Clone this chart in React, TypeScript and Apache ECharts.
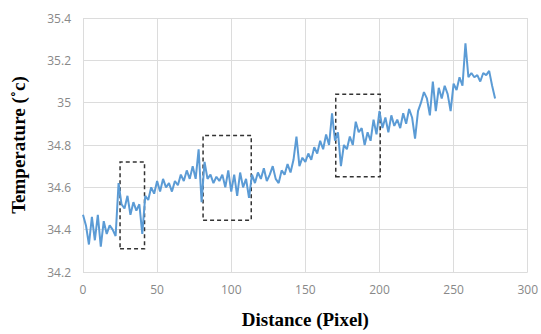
import React, { useEffect, useRef } from "react";
import * as echarts from "echarts";

const distances: number[] = [];
for (let i = 0; i <= 278; i += 2) distances.push(i);

const temperatures = [
  34.47, 34.42, 34.33, 34.46, 34.35, 34.47, 34.32, 34.44, 34.38, 34.42,
  34.40, 34.37, 34.62, 34.52, 34.50, 34.56, 34.47, 34.53, 34.49, 34.52,
  34.38, 34.56, 34.54, 34.60, 34.57, 34.63, 34.58, 34.64, 34.60, 34.62,
  34.58, 34.63, 34.61, 34.66, 34.63, 34.68, 34.64, 34.70, 34.64, 34.78,
  34.53, 34.72, 34.64, 34.66, 34.62, 34.65, 34.63, 34.66, 34.60, 34.68,
  34.58, 34.66, 34.56, 34.67, 34.60, 34.64, 34.55, 34.66, 34.62, 34.67,
  34.64, 34.69, 34.63, 34.66, 34.70, 34.64, 34.62, 34.68, 34.66, 34.71,
  34.67, 34.73, 34.84, 34.70, 34.74, 34.72, 34.76, 34.73, 34.79, 34.76,
  34.82, 34.78, 34.85, 34.80, 34.95, 34.82, 34.86, 34.70, 34.80, 34.78,
  34.84, 34.80, 34.91, 34.86, 34.88, 34.80, 34.86, 34.82, 34.92, 34.85,
  34.96, 34.88, 34.93, 34.86, 34.94, 34.89, 34.92, 34.88, 34.95, 34.90,
  34.97, 34.93, 34.83, 34.96, 35.00, 35.05, 35.02, 34.94, 35.10, 34.96,
  35.07, 35.02, 35.08, 35.04, 34.96, 35.09, 35.06, 35.12, 35.08, 35.28,
  35.12, 35.14, 35.12, 35.13, 35.10, 35.14, 35.13, 35.15, 35.08, 35.02,
];

// dashed highlight boxes: [xStart, yBottom, xEnd, yTop]
const boxes: [number, number, number, number][] = [
  [25, 34.31, 41.5, 34.72],
  [81, 34.445, 113.5, 34.845],
  [170.5, 34.65, 200.5, 35.04],
];

const yTicks = { min: 34.2, max: 35.4, interval: 0.2 };
const xTicks = { min: 0, max: 300, interval: 50 };

export default function App() {
  const ref = useRef<HTMLDivElement>(null);
  useEffect(() => {
    if (!ref.current) return;
    const chart = echarts.init(ref.current, undefined, { renderer: "svg" });
    const data = distances.map((d, i) => [d, temperatures[i]]);
    const titleStyle = {
      fontFamily: "Liberation Serif",
      fontWeight: "bold",
      fontSize: 19,
      color: "#000",
    };
    chart.setOption({
      animation: false,
      backgroundColor: "#ffffff",
      grid: { left: 83, right: 11, top: 18, bottom: 56 },
      xAxis: {
        type: "value",
        min: xTicks.min,
        max: xTicks.max,
        interval: xTicks.interval,
        name: "Distance (Pixel)",
        nameLocation: "middle",
        nameGap: 38,
        nameTextStyle: titleStyle,
        axisLine: { show: false },
        axisTick: { show: false },
        axisLabel: { color: "#888", fontSize: 12, margin: 11, fontFamily: "Open Sans" },
        splitLine: { show: true, lineStyle: { color: "#dcdcdc", width: 1 } },
      },
      yAxis: {
        type: "value",
        min: yTicks.min,
        max: yTicks.max,
        interval: yTicks.interval,
        name: "Temperature (˚c)",
        nameLocation: "middle",
        nameGap: 55,
        nameRotate: 90,
        nameTextStyle: titleStyle,
        axisLine: { show: false },
        axisTick: { show: false },
        axisLabel: { color: "#888", fontSize: 12, margin: 12, fontFamily: "Open Sans" },
        splitLine: { show: true, lineStyle: { color: "#dcdcdc", width: 1 } },
      },
      series: [
        {
          type: "line",
          data,
          showSymbol: false,
          symbol: "none",
          lineStyle: { color: "#5b9bd5", width: 2 },
          markArea: {
            silent: true,
            itemStyle: {
              color: "rgba(0,0,0,0)",
              borderColor: "#333",
              borderWidth: 1.5,
              borderType: [4, 3],
            },
            data: boxes.map((b) => [
              { coord: [b[0], b[1]] },
              { coord: [b[2], b[3]] },
            ]),
          },
        },
      ],
    });
    return () => chart.dispose();
  }, []);
  return (
    <div
      ref={ref}
      style={{ position: "absolute", left: 0, top: 0, width: 541, height: 334 }}
    />
  );
}
